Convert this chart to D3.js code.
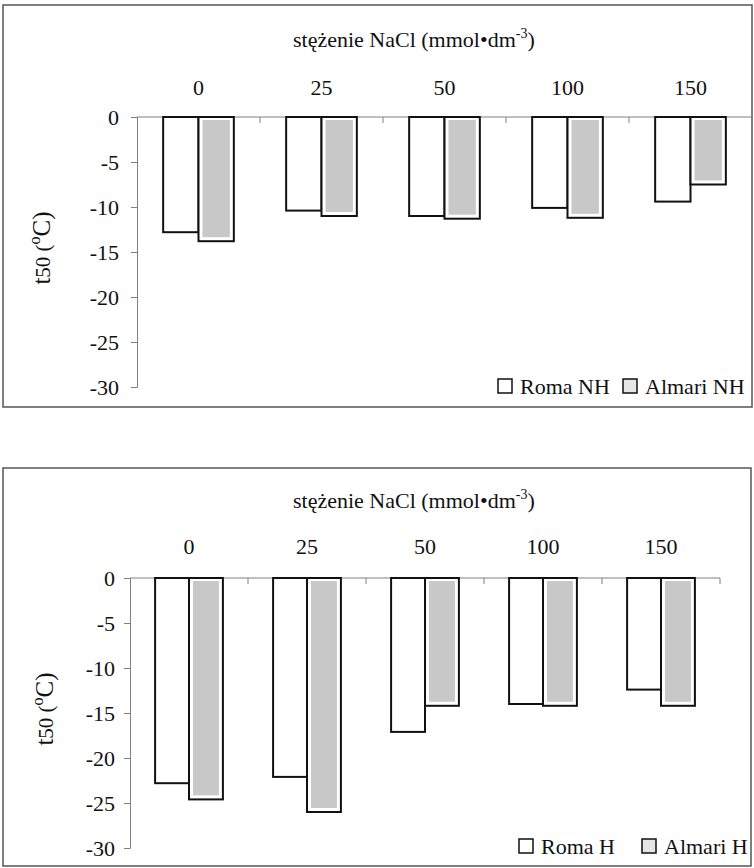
<!DOCTYPE html>
<html>
<head>
<meta charset="utf-8">
<script src="https://cdn.jsdelivr.net/npm/d3@7"></script>
<style>
  body { margin: 0; background: #fff; }
</style>
</head>
<body>
<div id="chart"></div>
<script>
// NaCl concentration (mmol/dm3) and t50 values
var categories = ["0", "25", "50", "100", "150"];
var romaNH   = [-12.8, -10.4, -11.0, -10.1, -9.4];
var almariNH = [-13.8, -11.0, -11.3, -11.2, -7.5];
var romaH    = [-22.8, -22.1, -17.1, -14.0, -12.4];
var almariH  = [-24.6, -26.0, -14.2, -14.2, -14.2];
var yTicks   = [0, -5, -10, -15, -20, -25, -30];
var legendNH = ["Roma NH", "Almari NH"];
var legendH  = ["Roma H", "Almari H"];

var FONT = "'Liberation Serif', 'Times New Roman', 'DejaVu Serif', serif";

var svg = d3.select("#chart").append("svg")
    .attr("width", 754)
    .attr("height", 868)
    .style("font-family", FONT);

function drawChart(opt) {
  var g = svg.append("g");

  // outer frame
  g.append("rect")
    .attr("x", opt.box[0]).attr("y", opt.box[1])
    .attr("width", opt.box[2] - opt.box[0]).attr("height", opt.box[3] - opt.box[1])
    .attr("fill", "none").attr("stroke", "#555").attr("stroke-width", 1.5);

  // set the ranges
  var x0 = d3.scaleBand()
      .domain(categories)
      .range([opt.left, opt.right])
      .padding(0);
  var x1 = d3.scaleBand()
      .domain([0, 1])
      .range([0, x0.bandwidth()])
      .paddingInner(0)
      .paddingOuter(0.74);
  var y = d3.scaleLinear()
      .domain([0, -30])
      .range([opt.top, opt.bottom]);

  // y axis
  var yAx = g.append("g")
    .attr("transform", "translate(" + opt.left + ",0)")
    .call(d3.axisLeft(y).tickValues(yTicks).tickSize(6).tickPadding(opt.yPad)
      .tickFormat(function(d) { return String(d); }));
  yAx.attr("font-family", null).attr("font-size", null);
  yAx.selectAll("line, path").attr("stroke", "#808080");
  yAx.selectAll("text").style("font-size", "22px").style("font-family", FONT).attr("fill", "#111");

  // x axis (on top, ticks at band boundaries)
  g.append("line")
    .attr("x1", opt.left).attr("x2", opt.right)
    .attr("y1", y(0)).attr("y2", y(0))
    .attr("stroke", "#808080");
  var bounds = categories.map(function(c) { return x0(c); }).concat([opt.right]);
  g.selectAll(".xtick").data(bounds.slice(1)).enter().append("line")
    .attr("x1", function(d) { return d; }).attr("x2", function(d) { return d; })
    .attr("y1", y(0)).attr("y2", y(0) + 6)
    .attr("stroke", "#808080");

  var xAx = g.append("g")
    .attr("transform", "translate(0," + y(0) + ")")
    .call(d3.axisTop(x0).tickSize(0).tickPadding(opt.xPad));
  xAx.attr("font-family", null).attr("font-size", null);
  xAx.select(".domain").remove();
  xAx.selectAll("text").style("font-size", "22px").style("font-family", FONT).attr("fill", "#111");

  // bars
  var series = [opt.roma, opt.almari];
  series.forEach(function(vals, si) {
    var bars = g.selectAll(".s" + si).data(vals).enter();
    bars.append("rect")
      .attr("x", function(d, i) { return x0(categories[i]) + x1(si); })
      .attr("y", y(0))
      .attr("width", x1.bandwidth())
      .attr("height", function(d) { return y(d) - y(0); })
      .attr("fill", "#fff")
      .attr("stroke", "#111")
      .attr("stroke-width", 2);
    if (si === 1) {
      bars.append("rect")
        .attr("x", function(d, i) { return x0(categories[i]) + x1(si) + 4; })
        .attr("y", y(0) + 3)
        .attr("width", x1.bandwidth() - 8)
        .attr("height", function(d) { return y(d) - y(0) - 7; })
        .attr("fill", "#c8c8c8");
    }
  });

  // title above the axis
  var t = g.append("text")
    .attr("x", opt.titleX).attr("y", y(0) - 70)
    .attr("fill", "#111")
    .style("font-size", "22px");
  t.append("tspan").text("stężenie NaCl (mmol•dm");
  t.append("tspan").attr("dy", -9).style("font-size", "14px").text("-3");
  t.append("tspan").attr("dy", 9).text(")");

  // y title
  var yt = g.append("text")
    .attr("transform", "translate(" + opt.yTitle[0] + "," + opt.yTitle[1] + ") rotate(-90)")
    .attr("text-anchor", "middle")
    .attr("fill", "#111")
    .style("font-size", "25px");
  yt.append("tspan").text("t");
  yt.append("tspan").style("font-size", "21px").text("50 (");
  yt.append("tspan").attr("dy", -10).style("font-size", "16px").text("o");
  yt.append("tspan").attr("dy", 10).text("C)");

  // legend
  var lg = g.selectAll(".leg").data(opt.legend).enter().append("g")
    .attr("transform", function(d, i) { return "translate(" + opt.legendX[i] + "," + (opt.bottom + opt.legendDy) + ")"; });
  lg.append("rect")
    .attr("x", 0).attr("y", -15).attr("width", 14).attr("height", 14)
    .attr("fill", function(d, i) { return i === 1 ? "#e6e6e6" : "#fff"; })
    .attr("stroke", "#111").attr("stroke-width", 1.5);
  lg.append("text")
    .attr("x", 22).attr("y", 0)
    .attr("fill", "#111")
    .style("font-size", "22px")
    .text(function(d) { return d; });
}

drawChart({
  box: [3, 5, 752, 407],
  left: 137, right: 752, top: 117, bottom: 387,
  roma: romaNH, almari: almariNH,
  yPad: 12, xPad: 22,
  titleX: 293, yTitle: [50, 248],
  legend: legendNH, legendX: [498, 623], legendDy: 7
});

drawChart({
  box: [3, 468, 751, 866],
  left: 130, right: 720, top: 578, bottom: 848,
  roma: romaH, almari: almariH,
  yPad: 9, xPad: 24,
  titleX: 293, yTitle: [53, 709],
  legend: legendH, legendX: [519, 642], legendDy: 6
});
</script>
</body>
</html>
